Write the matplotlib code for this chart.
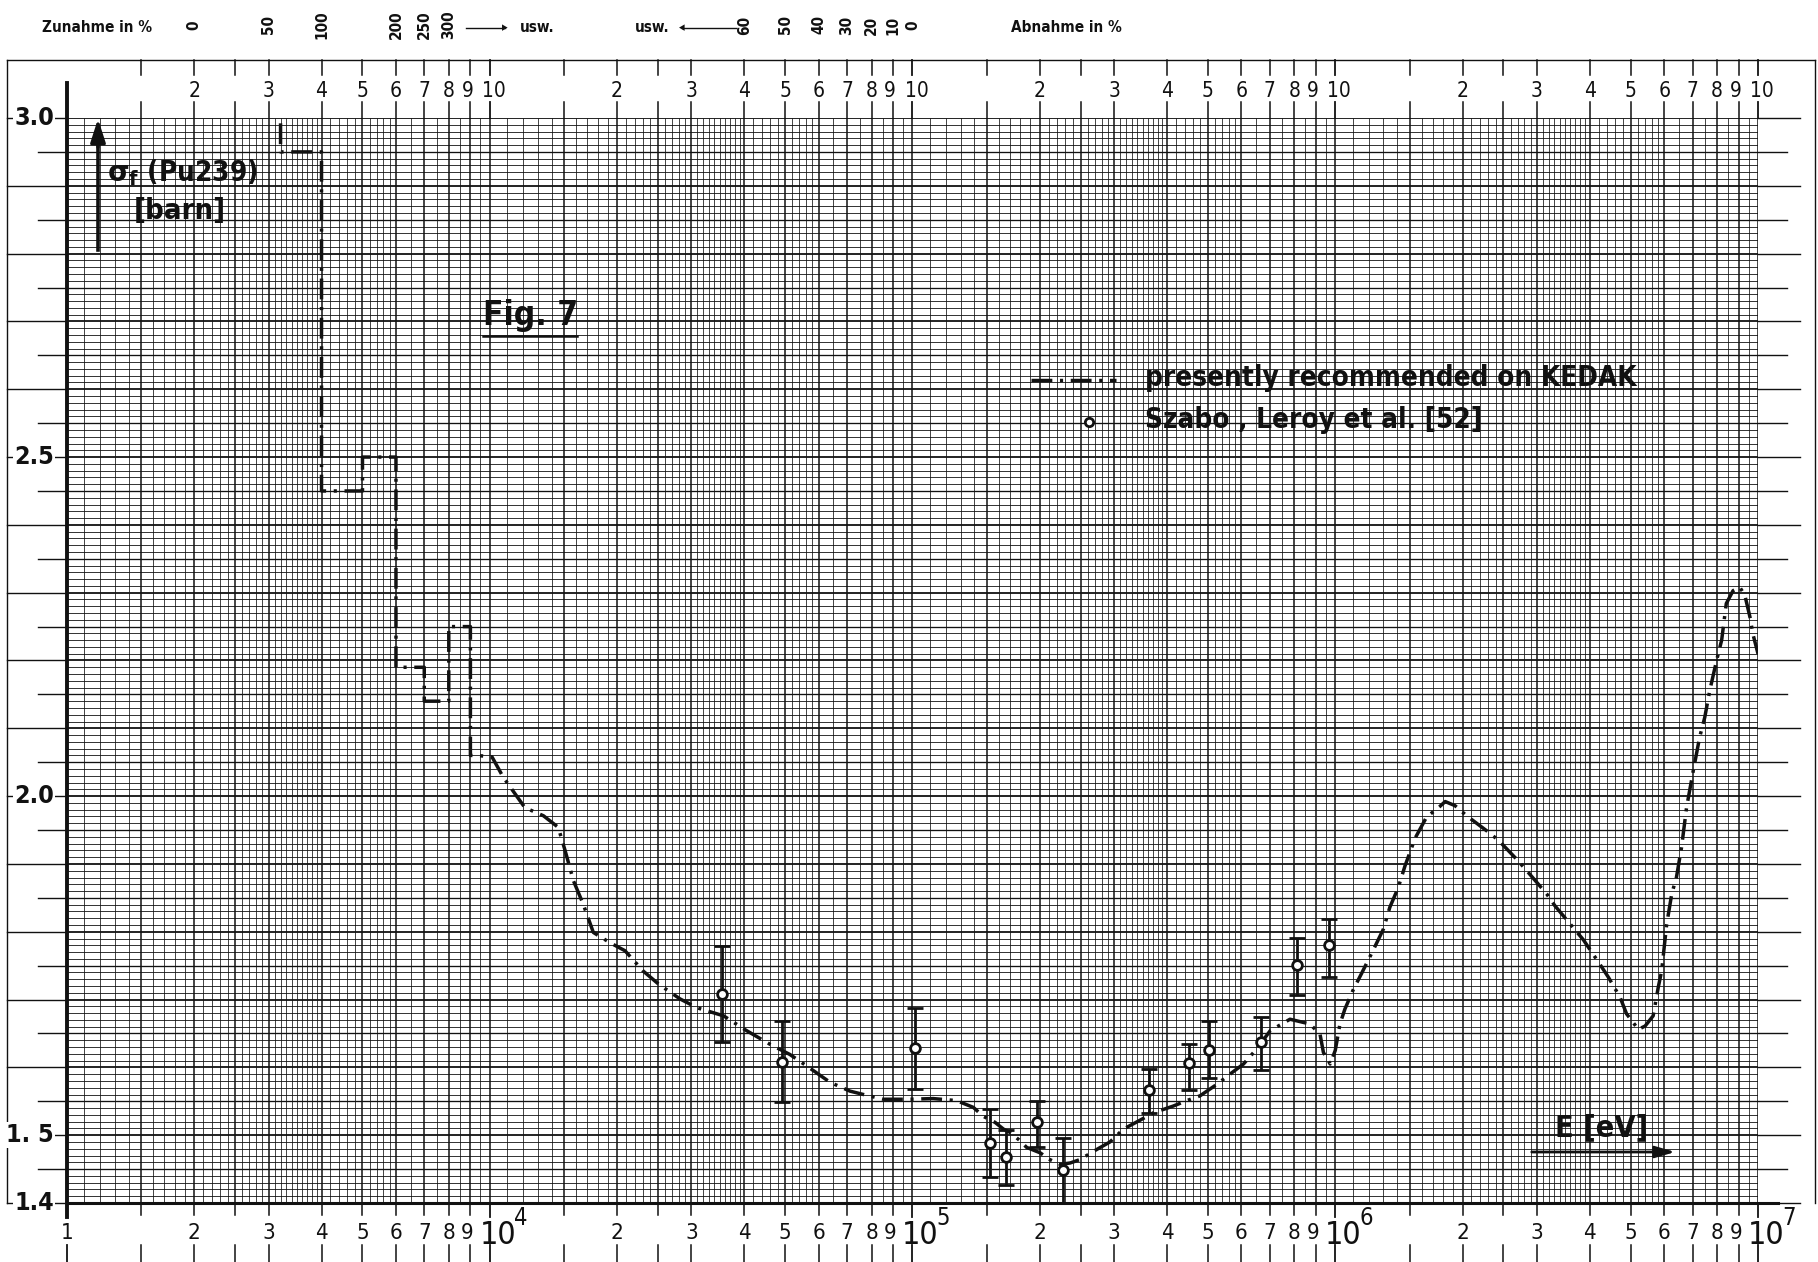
import numpy as np
import matplotlib
matplotlib.use('Agg')
import matplotlib.pyplot as plt
from matplotlib.transforms import blended_transform_factory as blend
from matplotlib.collections import LineCollection
from matplotlib.lines import Line2D

# ---------------- data ----------------
E_kedak = [3.2e3, 3.2e3, 4.0e3, 4.0e3, 5.0e3, 5.0e3, 6.0e3, 6.0e3, 7.0e3, 7.0e3, 8.0e3, 8.0e3, 9.0e3, 9.0e3,
           9.31e3, 1.012e4, 1.076e4, 1.211e4, 1.340e4, 1.452e4, 1.507e4, 1.578e4, 1.663e4, 1.758e4,
           1.923e4, 2.089e4, 2.307e4, 2.506e4, 2.818e4, 3.090e4, 3.573e4, 4.055e4, 4.603e4, 5.129e4,
           5.623e4, 6.383e4, 7.112e4, 7.656e4, 8.531e4, 9.863e4, 1.119e5, 1.271e5, 1.393e5, 1.469e5,
           1.567e5, 1.641e5, 1.702e5, 1.795e5, 1.862e5, 2.004e5, 2.113e5, 2.234e5, 2.360e5, 2.489e5,
           2.729e5, 2.931e5, 3.155e5, 3.451e5, 3.715e5, 4.140e5, 4.457e5, 4.786e5, 5.248e5, 5.636e5,
           6.067e5, 6.516e5, 7.015e5, 7.816e5, 8.710e5, 9.204e5, 9.376e5, 9.727e5, 1.000e6, 1.026e6,
           1.054e6, 1.104e6, 1.153e6, 1.230e6, 1.300e6, 1.346e6, 1.409e6, 1.462e6, 1.545e6, 1.644e6,
           1.762e6, 1.820e6, 1.919e6, 2.046e6, 2.280e6, 2.432e6, 2.685e6, 2.838e6, 3.162e6, 3.311e6,
           3.656e6, 3.864e6, 4.227e6, 4.426e6, 4.721e6, 4.887e6, 5.212e6, 5.408e6, 5.649e6, 5.808e6,
           5.916e6, 6.081e6, 6.252e6, 6.412e6, 6.592e6, 6.776e6, 7.031e6, 7.278e6, 7.482e6, 7.691e6,
           7.980e6, 8.204e6, 8.414e6, 8.730e6, 9.057e6, 9.311e6, 9.572e6, 9.727e6, 1.0e7]
sig_kedak = [3.05, 2.95, 2.95, 2.45, 2.45, 2.50, 2.50, 2.19, 2.19, 2.14, 2.14, 2.25, 2.25, 2.06,
             2.060, 2.058, 2.028, 1.983, 1.971, 1.954, 1.920, 1.875, 1.841, 1.799,
             1.784, 1.772, 1.742, 1.723, 1.701, 1.688, 1.676, 1.654, 1.634, 1.619,
             1.602, 1.578, 1.565, 1.560, 1.553, 1.553, 1.554, 1.551, 1.541, 1.528,
             1.519, 1.509, 1.504, 1.492, 1.482, 1.474, 1.464, 1.457, 1.459, 1.464,
             1.479, 1.490, 1.509, 1.522, 1.533, 1.543, 1.551, 1.558, 1.575, 1.590,
             1.605, 1.627, 1.654, 1.671, 1.664, 1.649, 1.622, 1.605, 1.625, 1.664,
             1.686, 1.715, 1.738, 1.773, 1.804, 1.836, 1.865, 1.897, 1.938, 1.969,
             1.984, 1.992, 1.986, 1.971, 1.949, 1.935, 1.907, 1.890, 1.856, 1.838,
             1.806, 1.788, 1.752, 1.733, 1.703, 1.679, 1.656, 1.661, 1.676, 1.718,
             1.742, 1.811, 1.856, 1.880, 1.924, 1.983, 2.038, 2.087, 2.116, 2.156,
             2.200, 2.230, 2.284, 2.303, 2.308, 2.296, 2.264, 2.239, 2.210]

E_szabo = [3.54e4, 4.91e4, 1.014e5, 1.524e5, 1.66e5, 1.972e5, 2.275e5, 3.622e5, 4.519e5, 5.035e5,
           6.668e5, 8.11e5, 9.68e5]
sig_szabo = [1.708, 1.608, 1.629, 1.489, 1.468, 1.519, 1.448, 1.567, 1.607, 1.626, 1.638, 1.751, 1.781]
sig_szabo_hi = [1.779, 1.669, 1.688, 1.538, 1.507, 1.551, 1.496, 1.597, 1.635, 1.668, 1.675, 1.791, 1.819]
sig_szabo_lo = [1.637, 1.549, 1.568, 1.438, 1.427, 1.483, 1.400, 1.533, 1.566, 1.585, 1.596, 1.706, 1.733]

y_ticklabels = ['3.0', '2.5', '2.0', '1. 5', '1.4']
y_tickvals = [3.0, 2.5, 2.0, 1.5, 1.4]
decades = [3, 4, 5, 6, 7]
tick_mant = [1.5, 2, 2.5, 3, 4, 5, 6, 7, 8, 9]
label_mant = ['', '2', '', '3', '4', '5', '6', '7', '8', '9']
zunahme_pct = [0, 50, 100, 200, 250, 300]
abnahme_pct = [60, 50, 40, 30, 20, 10, 0]

# ---------------- figure ----------------
W, H = 1818, 1262
fig = plt.figure(figsize=(W / 100, H / 100), dpi=100)
fig.patch.set_facecolor('white')
X0, X1, Y0, Y1 = 67, 1758, 118, 1203
ax = fig.add_axes([X0 / W, 1 - Y1 / H, (X1 - X0) / W, (Y1 - Y0) / H])
ax.set_xscale('log')
ax.set_xlim(1e3, 1e7)
ax.set_ylim(1.4, 3.0)
ax.axis('off')

FONT = ['DejaVu Sans']
ST = 'condensed'
INK = '#111111'

def fx(p):
    return p / W

def fy(p):
    return 1 - p / H

tr_xd = blend(ax.transData, fig.transFigure)   # x data, y figure
tr_yd = blend(fig.transFigure, ax.transData)   # x figure, y data

def T(x, y, s, **kw):
    kw.setdefault('family', FONT)
    kw.setdefault('fontstretch', ST)
    kw.setdefault('color', INK)
    return fig.text(x, y, s, **kw)

# ---------------- graph paper grid ----------------
fine_m, heavy_m = [], []
for d in decades[:-1]:
    b = 10.0 ** d
    heavy_m += [b * m for m in [1, 1.5, 2, 2.5, 3, 4, 5, 6, 7, 8, 9]]
    fm = list(np.arange(1.1, 3.0, 0.1)) + list(np.arange(3.1, 4.0, 0.1)) + \
        [4.2, 4.4, 4.6, 4.8, 5.2, 5.4, 5.6, 5.8, 6.5, 7.5, 8.5, 9.5]
    fm = [m for m in fm if min(abs(m - 1.5), abs(m - 2.0), abs(m - 2.5)) > 1e-6]
    fine_m += [b * m for m in fm]
heavy_m.append(1e7)
ax.add_collection(LineCollection([[(x, 1.4), (x, 3.0)] for x in fine_m], colors=INK, linewidths=0.55, zorder=1))
ax.add_collection(LineCollection([[(x, 1.4), (x, 3.0)] for x in heavy_m], colors=INK, linewidths=1.1, zorder=1))

hy = [1.4 + 0.01 * k for k in range(161)]
h_fine = [y for k, y in enumerate(hy) if k % 5 != 0]
h_med = [y for k, y in enumerate(hy) if k % 5 == 0 and k % 10 != 0]
h_heavy = [y for k, y in enumerate(hy) if k % 10 == 0]
ax.add_collection(LineCollection([[(1e3, y), (1e7, y)] for y in h_fine], colors=INK, linewidths=0.6, zorder=1))
ax.add_collection(LineCollection([[(1e3, y), (1e7, y)] for y in h_med], colors=INK, linewidths=0.95, zorder=1))
ax.add_collection(LineCollection([[(1e3, y), (1e7, y)] for y in h_heavy], colors=INK, linewidths=1.3, zorder=1))

# margin lines left / right
for k in range(33):
    y = 1.4 + 0.05 * k
    major = (k % 2 == 0)
    fig.add_artist(Line2D([fx(7 if major else 38), fx(X0)], [y, y], transform=tr_yd, color=INK, lw=1.0))
    fig.add_artist(Line2D([fx(X1), fx(1800 if major else 1787)], [y, y], transform=tr_yd, color=INK, lw=1.0))

# frame
fig.add_artist(Line2D([fx(7), fx(1815)], [fy(60), fy(60)], transform=fig.transFigure, color=INK, lw=1.0))
fig.add_artist(Line2D([fx(7), fx(7)], [fy(60), fy(1203)], transform=fig.transFigure, color=INK, lw=1.0))
fig.add_artist(Line2D([fx(1815), fx(1815)], [fy(60), fy(1203)], transform=fig.transFigure, color=INK, lw=1.0))
# axis lines
fig.add_artist(Line2D([1e3, 1e3], [fy(83), fy(1217)], transform=tr_xd, color=INK, lw=2.8))
fig.add_artist(Line2D([fx(X0), fx(1778)], [fy(Y1), fy(Y1)], transform=fig.transFigure, color=INK, lw=2.2))

# ---------------- ticks and tick labels ----------------
for d in decades:
    b = 10.0 ** d
    if d > 3:
        for (a, c) in [(Y1, 1217), (1245, 1262), (60, 75), (102, Y0)]:
            fig.add_artist(Line2D([b, b], [fy(a), fy(c)], transform=tr_xd, color=INK, lw=1.3))
        T(b * 10 ** (8 / 422.75), fy(1235), '10', transform=tr_xd, ha='center', va='center', fontsize=23)
        T(b * 10 ** (31 / 422.75), fy(1218), str(d), transform=tr_xd, ha='center', va='center', fontsize=17)
        T(b * 10 ** (4 / 422.75), fy(91), '10', transform=tr_xd, ha='center', va='center', fontsize=15)
    else:
        fig.add_artist(Line2D([b, b], [fy(1245), fy(1262)], transform=tr_xd, color=INK, lw=1.3))
        T(b, fy(1233), '1', transform=tr_xd, ha='center', va='center', fontsize=16)
    if d == 7:
        continue
    for m, lab in zip(tick_mant, label_mant):
        x = b * m
        for (a, c) in [(Y1, 1215), (1245, 1262), (60, 75), (102, Y0)]:
            fig.add_artist(Line2D([x, x], [fy(a), fy(c)], transform=tr_xd, color=INK, lw=1.1))
        if lab:
            dx = -3 if lab == '9' else 0
            T(x * 10 ** (dx / 422.75), fy(1233), lab, transform=tr_xd, ha='center', va='center', fontsize=16)
            T(x * 10 ** (dx / 422.75), fy(91), lab, transform=tr_xd, ha='center', va='center', fontsize=15)

for v, lab in zip(y_tickvals, y_ticklabels):
    T(fx(54), v, lab, transform=tr_yd, ha='right', va='center', fontsize=18, fontweight='bold',
      bbox=dict(boxstyle='square,pad=0.05', fc='white', ec='none'))

# ---------------- percent scale at top ----------------
T(fx(42), fy(27), 'Zunahme in %', ha='left', va='center', fontsize=11, fontweight='bold')
for p in zunahme_pct:
    T(2e3 * (1 + p / 100), fy(25), str(p), transform=tr_xd, rotation=90, ha='center', va='center',
      fontsize=11, fontweight='bold')
fig.add_artist(Line2D([fx(466), fx(505)], [fy(28), fy(28)], transform=fig.transFigure, color=INK, lw=1.0))
T(fx(505), fy(28), '\u25B8', ha='center', va='center', fontsize=9)
T(fx(520), fy(28), 'usw.', ha='left', va='center', fontsize=11, fontweight='bold')
T(fx(670), fy(28), 'usw.', ha='right', va='center', fontsize=11, fontweight='bold')
fig.add_artist(Line2D([fx(682), fx(736)], [fy(28), fy(28)], transform=fig.transFigure, color=INK, lw=1.0))
T(fx(682), fy(28), '\u25C2', ha='center', va='center', fontsize=9)
for p in abnahme_pct:
    T(1e5 * (1 - p / 100), fy(25), str(p), transform=tr_xd, rotation=90, ha='center', va='center',
      fontsize=11, fontweight='bold')
T(fx(1011), fy(27), 'Abnahme in %', ha='left', va='center', fontsize=11, fontweight='bold')

# ---------------- data ----------------
dashdot = (0, (6, 2.2, 0.9, 2.2))
ax.plot(E_kedak, sig_kedak, color=INK, lw=2.5, linestyle=dashdot, zorder=3, clip_on=True)
yerr = [np.array(sig_szabo) - np.array(sig_szabo_lo), np.array(sig_szabo_hi) - np.array(sig_szabo)]
ax.errorbar(E_szabo, sig_szabo, yerr=yerr, fmt='o', ms=7, mfc='white', mec=INK, mew=2.0,
            ecolor=INK, elinewidth=2.0, capsize=5.5, capthick=2.6, zorder=4)

# ---------------- annotations ----------------
fig.add_artist(Line2D([fx(98), fx(98)], [fy(250), fy(140)], transform=fig.transFigure, color=INK, lw=2.6))
ax.annotate('', xy=(fx(98), fy(116)), xytext=(fx(98), fy(150)), xycoords='figure fraction',
            textcoords='figure fraction',
            arrowprops=dict(arrowstyle='-|>,head_length=1.4,head_width=0.45', color=INK, lw=2.4))
T(fx(107), fy(173), r'$\mathbf{\sigma_f}$ (Pu239)', ha='left', va='center', fontsize=20, fontweight='bold')
T(fx(134), fy(211), '[barn]', ha='left', va='center', fontsize=21, fontweight='bold')

T(fx(531), fy(316), 'Fig. 7', ha='center', va='center', fontsize=24, fontweight='bold')
fig.add_artist(Line2D([fx(483), fx(577)], [fy(336), fy(336)], transform=fig.transFigure, color=INK, lw=1.8))

# legend
fig.add_artist(Line2D([fx(1031), fx(1116)], [fy(380), fy(380)], transform=fig.transFigure,
                      color=INK, lw=2.5, linestyle=dashdot))
fig.add_artist(Line2D([fx(1089)], [fy(422)], transform=fig.transFigure, marker='o', ms=6,
                      mfc='white', mec=INK, mew=2.0, linestyle='none'))
T(fx(1145), fy(378), 'presently recommended on KEDAK', ha='left', va='center', fontsize=20,
  fontweight='bold')
T(fx(1145), fy(420), 'Szabo , Leroy et al. [52]', ha='left', va='center', fontsize=20, fontweight='bold')

# E [eV] with arrow
T(fx(1555), fy(1128), 'E [eV]', ha='left', va='center', fontsize=22, fontweight='bold')
ax.annotate('', xy=(fx(1678), fy(1152)), xytext=(fx(1529), fy(1152)), xycoords='figure fraction',
            textcoords='figure fraction',
            arrowprops=dict(arrowstyle='-|>,head_length=1.2,head_width=0.35', color=INK, lw=2.0))

fig.savefig('out.png', dpi=100, facecolor='white')
